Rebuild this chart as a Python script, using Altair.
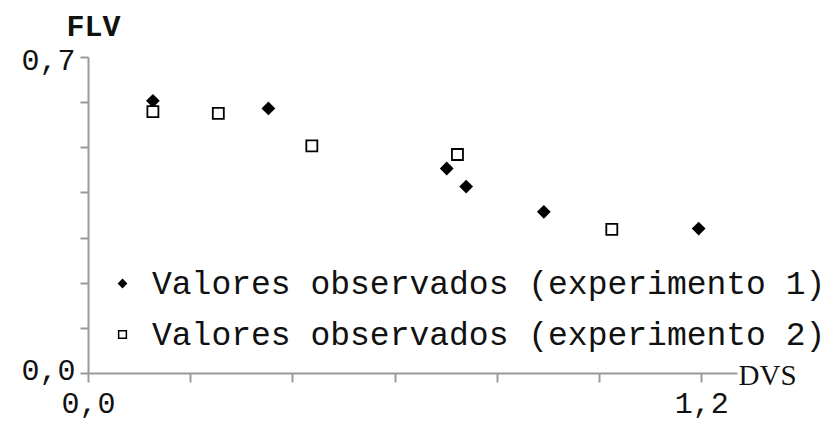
import altair as alt
import pandas as pd

# Data
series_names = ["Valores observados (experimento 1)", "Valores observados (experimento 2)"]
exp1_dvs = [0.127, 0.353, 0.702, 0.740, 0.892, 1.195]
exp1_flv = [0.603, 0.586, 0.453, 0.413, 0.357, 0.320]
exp2_dvs = [0.127, 0.255, 0.438, 0.723, 1.025]
exp2_flv = [0.579, 0.575, 0.503, 0.484, 0.318]
x_ticks = [0.0, 0.2, 0.4, 0.6, 0.8, 1.0, 1.2]
y_ticks = [0.0, 0.1, 0.2, 0.3, 0.4, 0.5, 0.6, 0.7]

df1 = pd.DataFrame({"DVS": exp1_dvs, "FLV": exp1_flv, "serie": series_names[0]})
df2 = pd.DataFrame({"DVS": exp2_dvs, "FLV": exp2_flv, "serie": series_names[1]})

W, H = 649, 316
AXC = "#9a9a9a"

x_enc = alt.X("DVS:Q", scale=alt.Scale(domain=[0, 1.27], nice=False, zero=True),
              axis=alt.Axis(values=x_ticks, grid=False, tickSize=9, tickWidth=2,
                            domainWidth=2, domainColor=AXC, tickColor=AXC,
                            labelExpr="(datum.value == 0 || datum.value > 1.1) ? replace(format(datum.value, '.1f'), '.', ',') : ''",
                            labelFont="Liberation Mono", labelFontSize=30, labelColor="#111",
                            labelPadding=6, labelFlush=False,
                            title="DVS", titleFont="Liberation Serif", titleFontSize=29,
                            titleFontWeight="normal", titleColor="#111",
                            titleX=W + 1, titleY=2, titleAlign="left", titleBaseline="middle",
                            titleAngle=0))
y_enc = alt.Y("FLV:Q", scale=alt.Scale(domain=[0, 0.7], nice=False, zero=True),
              axis=alt.Axis(values=y_ticks, grid=False, tickSize=8, tickWidth=2,
                            domainWidth=2, domainColor=AXC, tickColor=AXC,
                            labelExpr="(datum.value == 0 || datum.value > 0.65) ? replace(format(datum.value, '.1f'), '.', ',') : ''",
                            labelFont="Liberation Mono", labelFontSize=30, labelColor="#111",
                            labelPadding=5, labelFlush=False,
                            labelOffset={"condition": {"test": "datum.value > 0.65", "value": 3}, "value": -3},
                            title="FLV", titleFont="Liberation Mono", titleFontSize=30,
                            titleFontWeight="bold", titleColor="#111",
                            titleX=5, titleY=-22, titleAlign="center", titleBaseline="alphabetic",
                            titleAngle=0))

leg = dict(title=None, orient="none", legendX=18, legendY=210,
           labelFont="Liberation Mono", labelFontSize=33, labelLimit=0,
           labelColor="#111", labelOffset=13, rowPadding=17,
           symbolSize=60, symbolStrokeColor="black",
           symbolStrokeWidth=1.5, padding=0)

shape_enc = alt.Shape("serie:N", scale=alt.Scale(domain=series_names, range=["diamond", "square"]),
                      legend=alt.Legend(**leg))
fill_enc = alt.Fill("serie:N", scale=alt.Scale(domain=series_names, range=["black", "white"]),
                    legend=alt.Legend(**leg))
stroke_enc = alt.Stroke("serie:N", scale=alt.Scale(domain=series_names, range=["black", "black"]),
                        legend=alt.Legend(**leg))

l1 = alt.Chart(df1).mark_point(filled=True, size=190, opacity=1, strokeWidth=0).encode(
    x=x_enc, y=y_enc, shape=shape_enc, fill=fill_enc, stroke=stroke_enc)
l2 = alt.Chart(df2).mark_point(filled=True, size=121, opacity=1, strokeWidth=1.8).encode(
    x=x_enc, y=y_enc, shape=shape_enc, fill=fill_enc, stroke=stroke_enc)

chart = alt.layer(l1, l2).properties(
    width=W, height=H,
    autosize=alt.AutoSizeParams(type="none"),
    padding={"left": 80, "top": 49, "right": 88, "bottom": 49},
    background="white",
).configure_view(stroke=None)

chart.save("out.html", embed_options={"renderer": "svg", "actions": False})
